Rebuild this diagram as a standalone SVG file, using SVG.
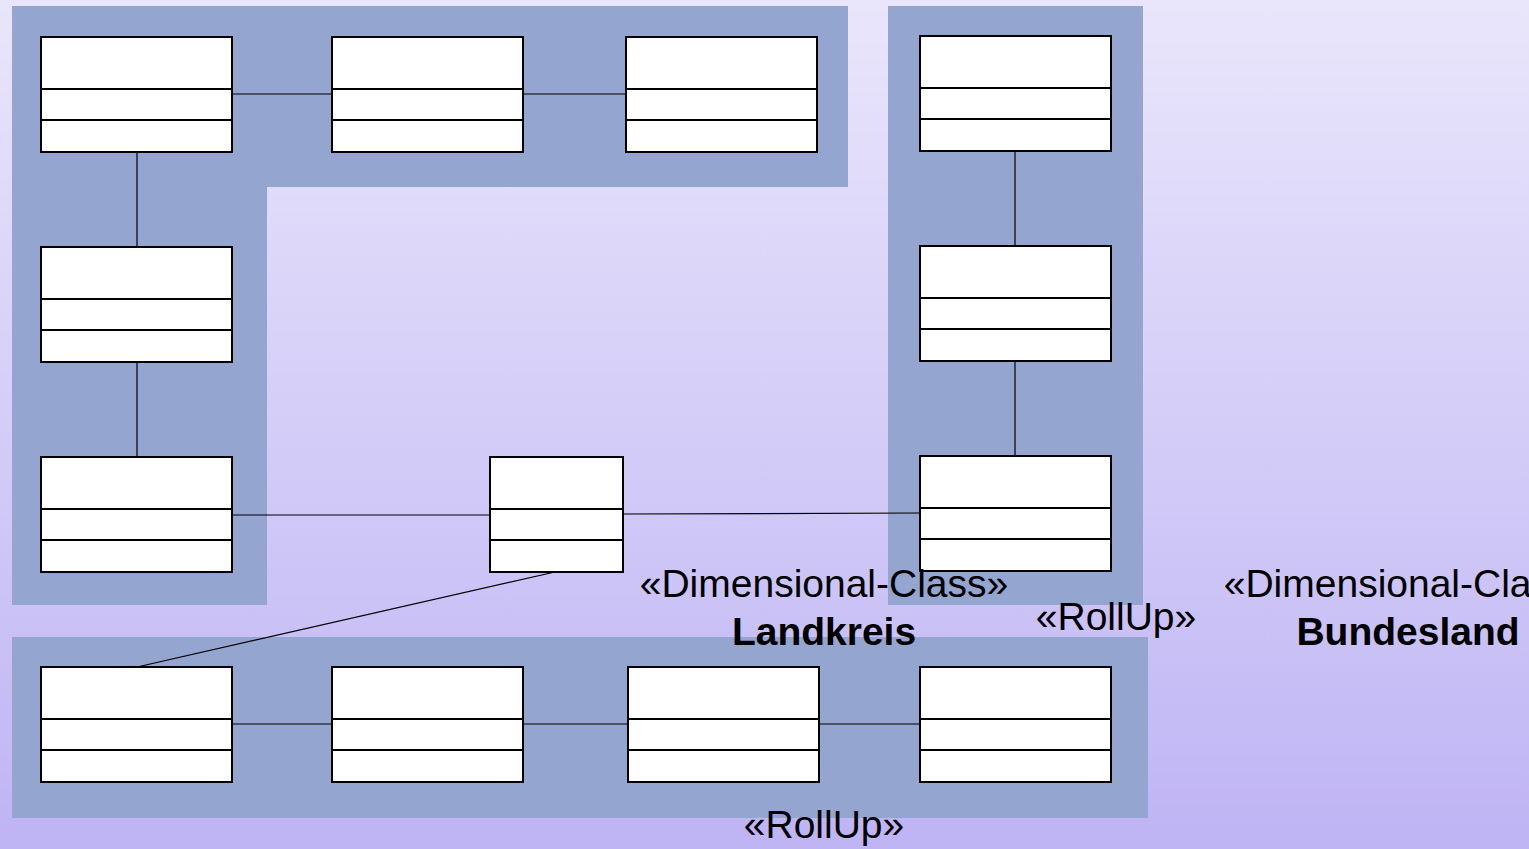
<svg xmlns="http://www.w3.org/2000/svg" width="1529" height="849" viewBox="0 0 1529 849">
<defs>
<linearGradient id="bg" x1="0" y1="0" x2="0" y2="1">
<stop offset="0" stop-color="#e9e6fb"/>
<stop offset="1" stop-color="#bfb4f4"/>
</linearGradient>
<g id="cls">
<rect x="0" y="0" width="191" height="115" fill="#fff" stroke="#000" stroke-width="2"/>
<line x1="0" y1="52" x2="191" y2="52" stroke="#000" stroke-width="2"/>
<line x1="0" y1="83" x2="191" y2="83" stroke="#000" stroke-width="2"/>
</g>
</defs>
<style>
.panel{fill:#94a5d0}
.conn line{stroke:#000;stroke-width:1.2}
.t{font-family:"Liberation Sans",Arial,sans-serif;font-size:39px;fill:#000}
.b{font-weight:bold}
</style>
<rect width="1529" height="849" fill="url(#bg)"/>
<g id="panels">
<path class="panel" d="M12 6 H848 V187 H267 V605 H12 Z"/>
<rect class="panel" x="888" y="6" width="255" height="599"/>
<rect class="panel" x="12" y="637" width="1136" height="181"/>
</g>
<g id="connectors" class="conn">
<line x1="233" y1="94" x2="332" y2="94"/>
<line x1="524" y1="94" x2="626" y2="94"/>
<line x1="137" y1="152" x2="137" y2="247"/>
<line x1="137" y1="362" x2="137" y2="457"/>
<line x1="1015" y1="151" x2="1015" y2="246"/>
<line x1="1015" y1="361" x2="1015" y2="456"/>
<line x1="233" y1="515" x2="490" y2="515"/>
<line x1="623" y1="514" x2="920" y2="513"/>
<line x1="555" y1="572" x2="137" y2="667"/>
<line x1="233" y1="724" x2="332" y2="724"/>
<line x1="524" y1="724" x2="628" y2="724"/>
<line x1="820" y1="724" x2="920" y2="724"/>
</g>
<g id="n1"><use href="#cls" x="41" y="37"/></g>
<g id="n2"><use href="#cls" x="332" y="37"/></g>
<g id="n3"><use href="#cls" x="626" y="37"/></g>
<g id="n4"><use href="#cls" x="920" y="36"/></g>
<g id="n5"><use href="#cls" x="41" y="247"/></g>
<g id="n6"><use href="#cls" x="920" y="246"/></g>
<g id="n7"><use href="#cls" x="41" y="457"/></g>
<g id="n8">
<rect x="490" y="457" width="133" height="115" fill="#fff" stroke="#000" stroke-width="2"/>
<line x1="490" y1="509" x2="623" y2="509" stroke="#000" stroke-width="2"/>
<line x1="490" y1="540" x2="623" y2="540" stroke="#000" stroke-width="2"/>
</g>
<g id="n9"><use href="#cls" x="920" y="456"/></g>
<g id="n10"><use href="#cls" x="41" y="667"/></g>
<g id="n11"><use href="#cls" x="332" y="667"/></g>
<g id="n12"><use href="#cls" x="628" y="667"/></g>
<g id="n13"><use href="#cls" x="920" y="667"/></g>
<g id="labels">
<text class="t" x="824" y="597" text-anchor="middle">«Dimensional-Class»</text>
<text class="t b" x="824" y="645" text-anchor="middle">Landkreis</text>
<text class="t" x="1116" y="630" text-anchor="middle">«RollUp»</text>
<text class="t" x="1408" y="597" text-anchor="middle">«Dimensional-Class»</text>
<text class="t b" x="1408" y="645" text-anchor="middle">Bundesland</text>
<text class="t" x="824" y="838" text-anchor="middle">«RollUp»</text>
</g>
</svg>
